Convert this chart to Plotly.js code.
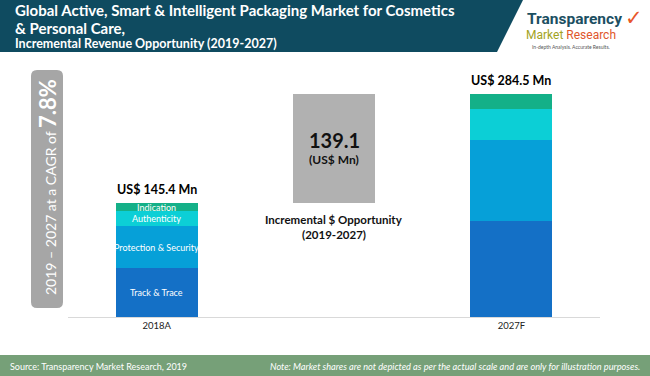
<!DOCTYPE html>
<html><head><meta charset="utf-8">
<script src="https://cdn.plot.ly/plotly-3.0.1.min.js"></script>
<style>html,body{margin:0;padding:0;background:#fff}#chart{width:650px;height:376px}</style>
</head><body><div id="chart"></div>
<script>
// ---- data ----
const categories = ['2018A', '2027F'];
const segmentNames = ['Track & Trace', 'Protection & Security', 'Authenticity', 'Indication'];
const trackTrace = [62.5, 122.5];
const protectionSecurity = [53.6, 103.4];
const authenticity = [19.1, 39.5];
const indication = [10.2, 19.1];
const totals = [145.4, 284.5];
const incrementalValue = 139.1;
const incrementalLabel = ['Incremental $ Opportunity', '(2019-2027)'];
const cagrPeriod = '2019 – 2027';
const cagrValue = '7.8%';
const titleLines = ['Global Active, Smart & Intelligent Packaging Market for Cosmetics', '& Personal Care,', 'Incremental Revenue Opportunity (2019-2027)'];
const sourceText = 'Source: Transparency Market Research, 2019';
const noteText = 'Note: Market shares are not depicted as per the actual scale and are only for illustration purposes.';

// ---- styling ----
const segColors = ['#1470c6', '#06a0d8', '#0ccfd6', '#14b088'];
const W = 650, H = 376, M = {l: 68, r: 50, t: 82, b: 59};
const pw = W - M.l - M.r, ph = H - M.t - M.b;
const px = x => (x - M.l) / pw;
const py = y => (H - M.b - y) / ph;
const FONT = 'Lato, "Open Sans", sans-serif';
const NARROW = '"Liberation Sans Narrow", Roboto, sans-serif';

const xpos = [0, 2];
const seriesVals = [trackTrace, protectionSecurity, authenticity, indication];
const bases = seriesVals.map((_, i) => xpos.map((__, j) => seriesVals.slice(0, i).reduce((s, a) => s + a[j], 0)));

const traces = seriesVals.map((vals, i) => ({
  type: 'bar', x: xpos, y: vals, base: bases[i], name: segmentNames[i],
  marker: {color: segColors[i], line: {width: 0}}, width: 0.463, hoverinfo: 'none'
}));
traces.push({type: 'bar', x: [1], y: [incrementalValue], base: [totals[0]],
  marker: {color: '#b1b1b1', line: {width: 0}}, width: 0.463, hoverinfo: 'none'});

const ann = [];
const A = o => ann.push(Object.assign({showarrow: false, xanchor: 'center', yanchor: 'middle'}, o));
// segment labels on first bar
seriesVals.forEach((vals, i) => {
  A({x: xpos[0], y: bases[i][0] + vals[0] / 2, xref: 'x', yref: 'y', text: segmentNames[i],
    font: {family: FONT, size: 9, color: '#ffffff'}});
});
// totals
totals.forEach((t, j) => {
  A({x: xpos[j], y: t, xref: 'x', yref: 'y', text: '<b>US$ ' + t.toFixed(1) + ' Mn</b>',
    yanchor: 'bottom', yshift: 4, font: {family: FONT, size: 12.5, color: '#000'}});
});
// incremental box text
const mid = totals[0] + incrementalValue / 2;
A({x: 1, y: mid, xref: 'x', yref: 'y', text: '<b>' + incrementalValue.toFixed(1) + '</b>',
  yshift: 9, font: {family: FONT, size: 20, color: '#111'}});
A({x: 1, y: mid, xref: 'x', yref: 'y', text: '<b>(US$ Mn)</b>',
  yshift: -11, font: {family: FONT, size: 12, color: '#111'}});
A({x: 1, y: totals[0], xref: 'x', yref: 'y', text: '<b>' + incrementalLabel[0] + '</b>',
  yshift: -16, font: {family: FONT, size: 11.5, color: '#111'}});
A({x: 1, y: totals[0], xref: 'x', yref: 'y', text: '<b>' + incrementalLabel[1] + '</b>',
  yshift: -31, font: {family: FONT, size: 11.5, color: '#111'}});
// CAGR rotated
A({x: px(47), y: py(187), xref: 'paper', yref: 'paper', textangle: -90,
  text: cagrPeriod + ' at a CAGR of <b><span style="font-size:22px">' + cagrValue + '</span></b>',
  font: {family: FONT, size: 14, color: '#ffffff'}});
// title
const tY = [10, 28, 43], tS = [15, 15, 12.5];
titleLines.forEach((t, i) => {
  A({x: px(13), y: py(tY[i]), xref: 'paper', yref: 'paper', xanchor: 'left',
    text: '<b>' + t + '</b>', font: {family: FONT, size: tS[i], color: '#ffffff'}});
});
// logo
A({x: px(574), y: py(19), xref: 'paper', yref: 'paper', text: '<b>Transparency</b>',
  font: {family: NARROW, size: 15.5, color: '#1c4f62'}});
A({x: px(571), y: py(35), xref: 'paper', yref: 'paper',
  text: '<span style="color:#a3a31e">Market</span> <span style="color:#e0562a">Research</span>',
  font: {family: NARROW, size: 12, color: '#e0562a'}});
A({x: px(571), y: py(47), xref: 'paper', yref: 'paper',
  text: 'In-depth Analysis. Accurate Results.', font: {family: FONT, size: 5, color: '#555'}});
A({x: px(634), y: py(18), xref: 'paper', yref: 'paper',
  text: '<b>✓</b>', font: {family: 'DejaVu Sans', size: 21, color: '#e8562a'}});
// footer
A({x: px(8), y: py(366), xref: 'paper', yref: 'paper', xanchor: 'left',
  text: sourceText, font: {family: FONT, size: 9, color: '#ffffff'}});
A({x: px(642), y: py(366), xref: 'paper', yref: 'paper', xanchor: 'right',
  text: '<i>' + noteText + '</i>', font: {family: FONT, size: 9.2, color: '#ffffff'}});

function rr(x0, y0, x1, y1, r) {
  const P = (x, y) => px(x) + ',' + py(y);
  return 'M' + P(x0 + r, y0) + ' L' + P(x1 - r, y0) + ' Q' + P(x1, y0) + ' ' + P(x1, y0 + r) +
    ' L' + P(x1, y1 - r) + ' Q' + P(x1, y1) + ' ' + P(x1 - r, y1) + ' L' + P(x0 + r, y1) +
    ' Q' + P(x0, y1) + ' ' + P(x0, y1 - r) + ' L' + P(x0, y0 + r) + ' Q' + P(x0, y0) + ' ' + P(x0 + r, y0) + ' Z';
}
const shapes = [
  {type: 'path', xref: 'paper', yref: 'paper', layer: 'below',
   path: 'M' + px(0) + ',' + py(0) + ' L' + px(523) + ',' + py(0) + ' L' + px(497) + ',' + py(52) + ' L' + px(0) + ',' + py(52) + ' Z',
   fillcolor: '#0f4b60', line: {width: 0}},
  {type: 'rect', xref: 'paper', yref: 'paper', layer: 'below', x0: px(0), x1: px(650), y0: py(355), y1: py(376),
   fillcolor: '#76a078', line: {width: 0}},
  {type: 'path', xref: 'paper', yref: 'paper', layer: 'below', path: rr(31, 70, 63, 308, 6),
   fillcolor: '#a6a6a6', line: {width: 0}}
];

const layout = {
  width: W, height: H, margin: M, paper_bgcolor: '#ffffff', plot_bgcolor: '#ffffff',
  barmode: 'overlay', showlegend: false, bargap: 0,
  xaxis: {range: [-0.5, 2.5], tickvals: xpos, ticktext: categories, showgrid: false, zeroline: false,
    showline: true, linecolor: '#d9d9d9', linewidth: 1, ticks: '', fixedrange: true,
    tickfont: {family: FONT, size: 9.5, color: '#222'}},
  yaxis: {range: [0, 300], visible: false, fixedrange: true},
  annotations: ann, shapes: shapes
};
Plotly.newPlot('chart', traces, layout, {staticPlot: true, displayModeBar: false});
</script></body></html>
